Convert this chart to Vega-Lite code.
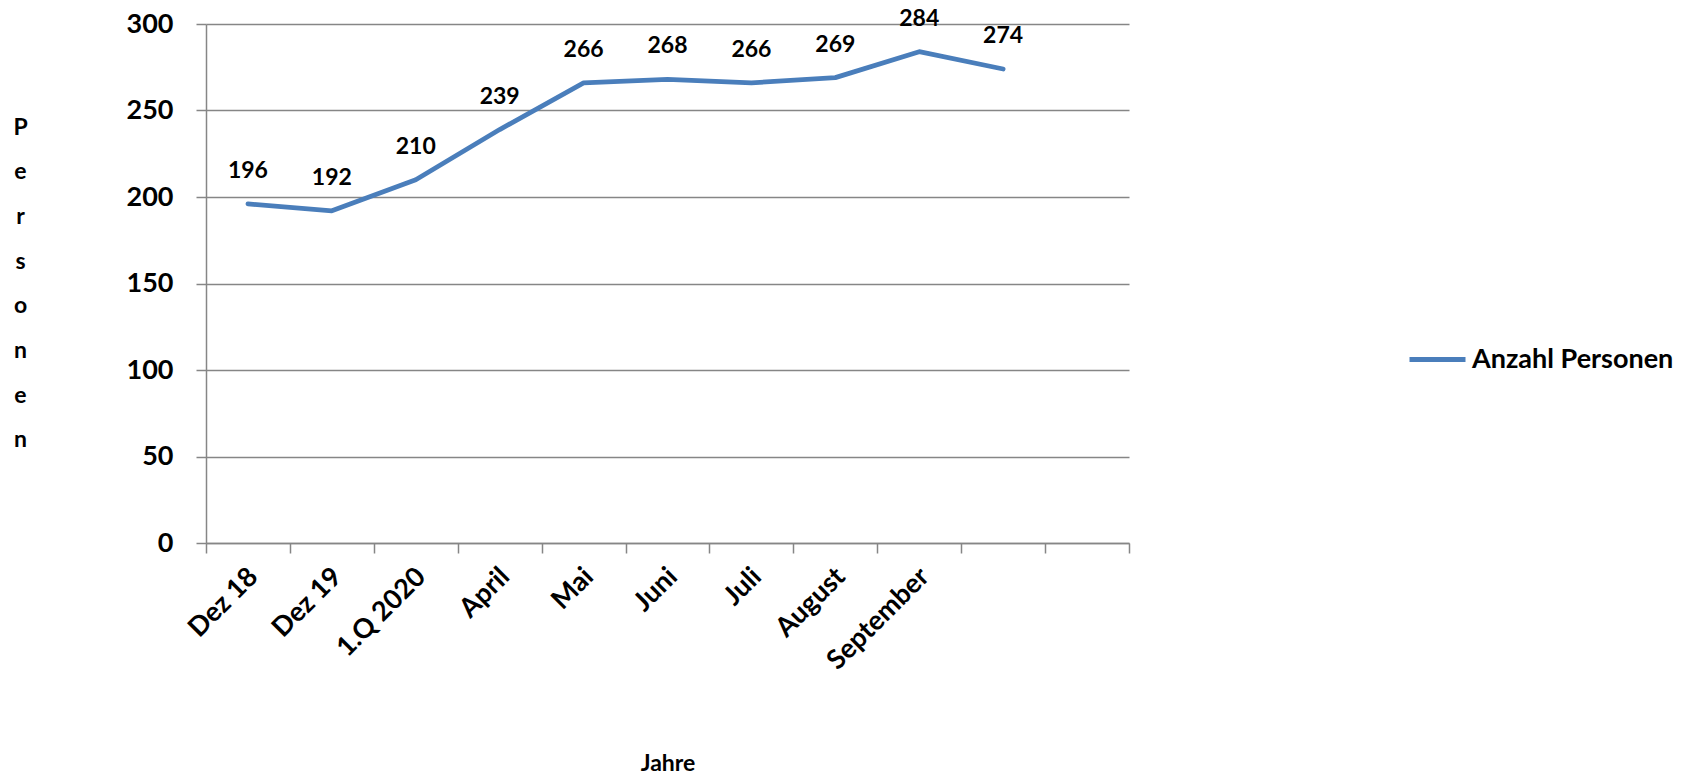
{
  "$schema": "https://vega.github.io/schema/vega-lite/v6.json",
  "width": 923,
  "height": 519,
  "autosize": {"type": "none"},
  "padding": {"left": 206, "top": 24, "right": 574, "bottom": 232},
  "background": "white",
  "config": {"font": "Lato", "view": {"stroke": null}},
  "data": {
    "values": [
      {"Monat": "Dez 18", "Anzahl": 196, "Serie": "Anzahl Personen"},
      {"Monat": "Dez 19", "Anzahl": 192, "Serie": "Anzahl Personen"},
      {"Monat": "1.Q 2020", "Anzahl": 210, "Serie": "Anzahl Personen"},
      {"Monat": "April", "Anzahl": 239, "Serie": "Anzahl Personen"},
      {"Monat": "Mai", "Anzahl": 266, "Serie": "Anzahl Personen"},
      {"Monat": "Juni", "Anzahl": 268, "Serie": "Anzahl Personen"},
      {"Monat": "Juli", "Anzahl": 266, "Serie": "Anzahl Personen"},
      {"Monat": "August", "Anzahl": 269, "Serie": "Anzahl Personen"},
      {"Monat": "September", "Anzahl": 284, "Serie": "Anzahl Personen"},
      {"Monat": "", "Anzahl": 274, "Serie": "Anzahl Personen"}
    ]
  },
  "encoding": {
    "x": {
      "field": "Monat",
      "type": "nominal",
      "bandPosition": 0.5,
      "scale": {
        "type": "band",
        "domain": ["Dez 18", "Dez 19", "1.Q 2020", "April", "Mai", "Juni", "Juli", "August", "September", "", " "],
        "paddingInner": 0,
        "paddingOuter": 0
      },
      "axis": {
        "title": "Jahre",
        "titleFontSize": 23,
        "titleFontWeight": "bold",
        "titleColor": "black",
        "titleBaseline": "alphabetic",
        "titleY": 227,
        "titleX": 461.5,
        "labelAngle": -45,
        "labelAlign": "right",
        "labelBaseline": "top",
        "labelFontSize": 27,
        "labelFontWeight": "bold",
        "labelColor": "black",
        "labelPadding": 10,
        "labelOffset": -4,
        "labelOverlap": false,
        "labelLimit": 0,
        "tickBand": "extent",
        "tickSize": 10,
        "tickColor": "#868686",
        "tickWidth": 1.5,
        "domainColor": "#868686",
        "domainWidth": 1.5,
        "grid": false
      }
    },
    "y": {
      "field": "Anzahl",
      "type": "quantitative",
      "scale": {"domain": [0, 300], "nice": false},
      "axis": {
        "title": ["P", "e", "r", "s", "o", "n", "e", "n"],
        "titleAngle": 0,
        "titleAlign": "center",
        "titleBaseline": "middle",
        "titleX": -186,
        "titleY": 103,
        "titleLineHeight": 44.7,
        "titleFontSize": 23,
        "titleFontWeight": "bold",
        "titleColor": "black",
        "values": [0, 50, 100, 150, 200, 250, 300],
        "labelFontSize": 27,
        "labelFontWeight": "bold",
        "labelColor": "black",
        "labelPadding": 23,
        "tickSize": 10,
        "tickColor": "#868686",
        "tickWidth": 1.5,
        "grid": true,
        "gridColor": "#868686",
        "gridWidth": 1.5,
        "domainColor": "#868686",
        "domainWidth": 1.5
      }
    }
  },
  "layer": [
    {
      "mark": {"type": "line", "strokeWidth": 4.8, "strokeCap": "round", "strokeJoin": "round"},
      "encoding": {
        "color": {
          "field": "Serie",
          "type": "nominal",
          "scale": {"range": ["#4A7EBB"]},
          "legend": {
            "title": null,
            "orient": "none",
            "legendX": 1201,
            "legendY": 305,
            "padding": 0,
            "symbolType": "stroke",
            "symbolSize": 3136,
            "symbolStrokeWidth": 5,
            "labelFontSize": 27,
            "labelFontWeight": "bold",
            "labelColor": "black",
            "labelOffset": 4,
            "labelLimit": 0
          }
        }
      }
    },
    {
      "mark": {"type": "text", "dy": -26, "baseline": "alphabetic", "fontSize": 23, "fontWeight": "bold", "color": "black"},
      "encoding": {"text": {"field": "Anzahl", "type": "quantitative"}}
    }
  ]
}
